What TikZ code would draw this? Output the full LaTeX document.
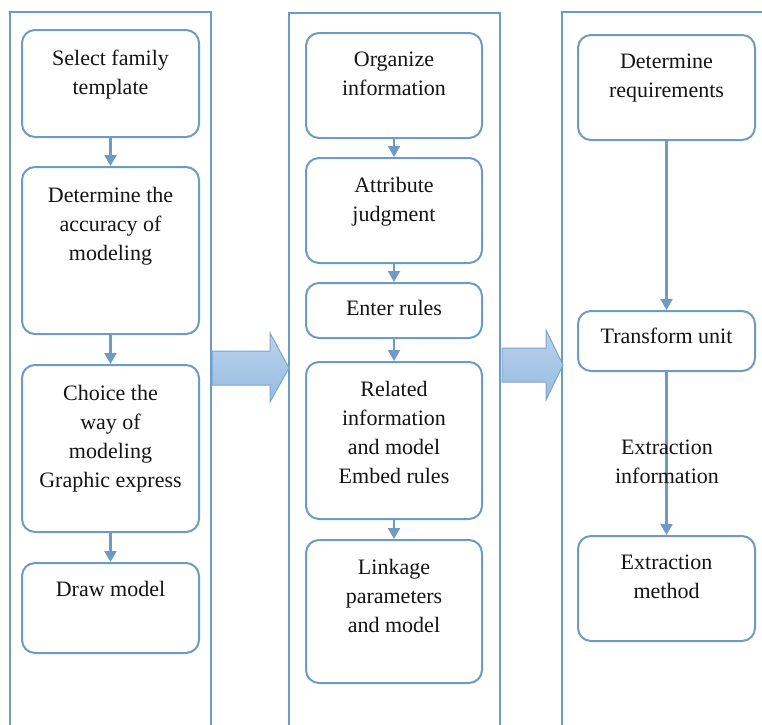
\documentclass[tikz,border=0pt]{standalone}
\usepackage{fontspec}
\setmainfont{Liberation Serif}
\usetikzlibrary{arrows.meta}
\definecolor{lineblue}{RGB}{112,154,198}
\definecolor{arrtop}{RGB}{185,210,236}
\definecolor{arrbot}{RGB}{152,188,226}
\definecolor{txtcol}{RGB}{20,20,20}
\tikzset{
  col/.style={draw=lineblue, line width=2.4pt},
  box/.style={draw=lineblue, line width=2pt, rounded corners=13pt, fill=white, inner sep=0pt},
  txt/.style={anchor=north, align=center, inner sep=0pt, text=txtcol,
    font=\fontsize{22}{29}\selectfont},
  flow/.style={draw=lineblue, line width=2.2pt, -{Triangle[width=12pt,length=11pt]}},
  bigarrow/.style={draw=lineblue!90, line width=1pt, top color=arrtop, bottom color=arrbot},
}
\begin{document}
\begin{tikzpicture}[x=1pt,y=-1pt]
\useasboundingbox (0,0) rectangle (762,724);
\clip (0,0) rectangle (762,724);
% columns
\draw[col] (10,760) -- (10,12) -- (211,12) -- (211,760);
\draw[col] (289,760) -- (289,13) -- (500,13) -- (500,760);
\draw[col] (562,760) -- (562,12) -- (780,12);
% big arrows
\draw[bigarrow] (212,351) -- (270,351) -- (270,333) -- (289,368) -- (270,402) -- (270,385) -- (212,385) -- cycle;
\draw[bigarrow] (502,348) -- (546,348) -- (546,330) -- (563,365) -- (546,400) -- (546,382) -- (502,382) -- cycle;
% left column boxes
\node[box, minimum width=177pt, minimum height=107pt] (l1) at (110.5,83.5) {};
\node[box, minimum width=177pt, minimum height=167pt] (l2) at (110.5,250.5) {};
\node[box, minimum width=177pt, minimum height=167pt] (l3) at (110.5,448.5) {};
\node[box, minimum width=177pt, minimum height=90pt] (l4) at (110.5,608) {};
\node[txt] at ([yshift=-21pt]l1.north) {Select family\\template};
\node[txt] at ([yshift=-21pt]l2.north) {Determine the\\accuracy of\\modeling};
\node[txt] at ([yshift=-21pt]l3.north) {Choice the\\way of\\modeling\\Graphic express};
\node[txt] at ([yshift=-19pt]l4.north) {Draw model};
\draw[flow] (l1) -- (l2);
\draw[flow] (l2) -- (l3);
\draw[flow] (l3) -- (l4);
% middle column boxes
\node[box, minimum width=176pt, minimum height=105pt] (m1) at (394,85.5) {};
\node[box, minimum width=176pt, minimum height=105pt] (m2) at (394,210.5) {};
\node[box, minimum width=176pt, minimum height=55pt] (m3) at (394,310.5) {};
\node[box, minimum width=176pt, minimum height=157pt] (m4) at (394,440.5) {};
\node[box, minimum width=176pt, minimum height=143pt] (m5) at (394,611.5) {};
\node[txt] at ([yshift=-20pt]m1.north) {Organize\\information};
\node[txt] at ([yshift=-20pt]m2.north) {Attribute\\judgment};
\node[txt] at ([yshift=-18pt]m3.north) {Enter rules};
\node[txt] at ([yshift=-20pt]m4.north) {Related\\information\\and model\\Embed rules};
\node[txt] at ([yshift=-20pt]m5.north) {Linkage\\parameters\\and model};
\draw[flow] (m1) -- (m2);
\draw[flow] (m2) -- (m3);
\draw[flow] (m3) -- (m4);
\draw[flow] (m4) -- (m5);
% right column boxes
\node[box, minimum width=177pt, minimum height=105pt] (r1) at (666.5,87.5) {};
\node[box, minimum width=177pt, minimum height=60pt] (r2) at (666.5,341) {};
\node[box, minimum width=177pt, minimum height=105pt] (r3) at (666.5,588.5) {};
\node[txt] at ([yshift=-20pt]r1.north) {Determine\\requirements};
\node[txt] at ([yshift=-18pt]r2.north) {Transform unit};
\node[txt] at ([yshift=-20pt]r3.north) {Extraction\\method};
\draw[flow] (r1) -- (r2);
\draw[flow] (r2) -- (r3);
\node[txt] (lab) at (667,440) {Extraction\\information};
\end{tikzpicture}
\end{document}
